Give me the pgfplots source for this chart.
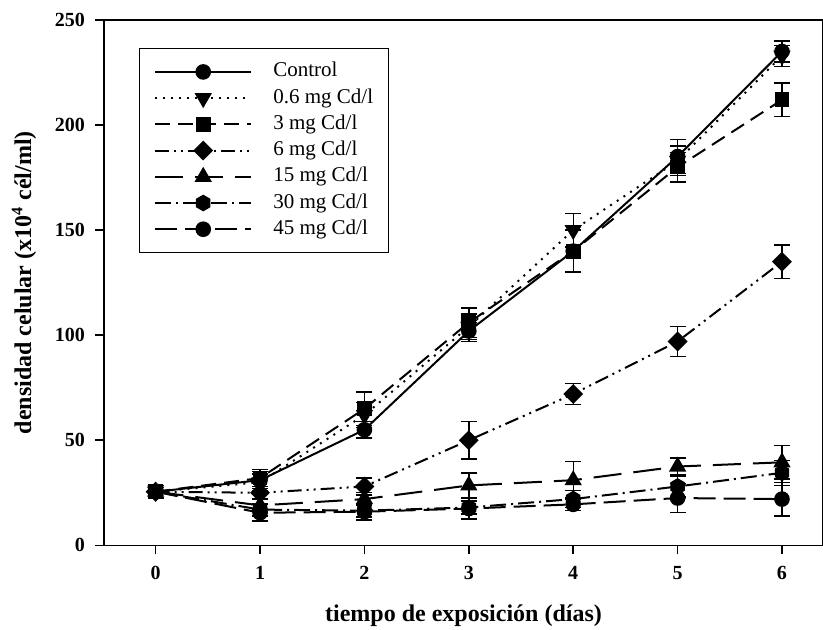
\documentclass[border=0pt]{standalone}
\usepackage{fontspec}
\setmainfont{Liberation Serif}
\usepackage{pgfplots}
\pgfplotsset{compat=1.18}
\pgfdeclareplotmark{hexagon*}{%
  \pgfpathmoveto{\pgfqpointpolar{90}{\pgfplotmarksize}}%
  \pgfpathlineto{\pgfqpointpolar{150}{\pgfplotmarksize}}%
  \pgfpathlineto{\pgfqpointpolar{210}{\pgfplotmarksize}}%
  \pgfpathlineto{\pgfqpointpolar{270}{\pgfplotmarksize}}%
  \pgfpathlineto{\pgfqpointpolar{330}{\pgfplotmarksize}}%
  \pgfpathlineto{\pgfqpointpolar{30}{\pgfplotmarksize}}%
  \pgfpathclose\pgfusepathqfillstroke}
\begin{document}
\begin{tikzpicture}
\begin{axis}[
  scale only axis,
  width=359.25pt, height=262.5pt,
  xmin=-0.494, xmax=6.393,
  ymin=0, ymax=250,
  xtick={0,1,2,3,4,5,6},
  ytick={0,50,100,150,200,250},
  tick align=outside,
  xtick pos=bottom, ytick pos=left,
  major tick length=4.5pt,
  axis line style={line width=0.8pt},
  every tick/.style={line width=0.8pt, black},
  tick label style={font=\fontsize{10}{11}\selectfont\bfseries},
  /pgf/number format/assume math mode=true,
  xticklabel style={yshift=-2.5pt},
  yticklabel style={xshift=-1.5pt},
  xlabel={\fontsize{12}{14}\selectfont\bfseries tiempo de exposición (días)},
  ylabel={\fontsize{12}{14}\selectfont\bfseries densidad celular (x10\textsuperscript{4} cél/ml)},
  every axis x label/.style={at={(axis description cs:0.5,0)}, anchor=center, yshift=-35pt},
  every axis y label/.style={at={(axis description cs:0,0.5)}, anchor=center, xshift=-40pt, rotate=90},
  legend style={at={(17.3pt,248.5pt)}, anchor=north west, draw=black, line width=0.5pt,
     font=\fontsize{10.5}{12}\selectfont, row sep=3.1pt, inner xsep=7.5pt, inner ysep=6.7pt,
     nodes={inner sep=0pt, text height=7.5pt, text depth=2.5pt},
     cells={anchor=west}},
  legend cell align=left,
  legend image code/.code={\draw[mark repeat=2,mark phase=2,#1] plot coordinates {(0pt,0pt) (24pt,0pt) (48pt,0pt)};
     \path[draw=none, fill=none] (0pt,0pt) (59pt,0pt);},
  every axis plot/.append style={black, line width=1pt,
     error bars/y dir=both, error bars/y explicit,
     error bars/error bar style={line width=0.7pt, solid},
     error bars/error mark options={rotate=90, mark size=4pt, line width=0.7pt, solid}},
]
\addplot[mark=*, mark size=3.4pt, solid, mark options={solid}] coordinates {
 (0,25.5) +- (0,3) (1,31) +- (0,4) (2,55) +- (0,4) (3,102) +- (0,5)
 (4,140) +- (0,10) (5,185) +- (0,8) (6,235) +- (0,5)};
\addlegendentry{Control}
\addplot[mark=triangle*, mark size=4pt, mark options={solid, rotate=180}, dash pattern=on 1pt off 3pt] coordinates {
 (0,25.5) +- (0,3) (1,30) +- (0,4) (2,62) +- (0,6) (3,104) +- (0,6)
 (4,150) +- (0,8) (5,183) +- (0,7) (6,233) +- (0,5)};
\addlegendentry{0.6 mg Cd/l}
\addplot[mark=square*, mark size=3.2pt, mark options={solid}, dash pattern=on 7.5pt off 4pt] coordinates {
 (0,25.5) +- (0,3) (1,32) +- (0,4) (2,65) +- (0,8) (3,106) +- (0,7)
 (4,140) +- (0,10) (5,180) +- (0,7) (6,212) +- (0,8)};
\addlegendentry{3 mg Cd/l}
\addplot[mark=square*, mark size=3pt, mark options={solid, rotate=45}, dash pattern=on 7pt off 2.5pt on 1pt off 2.5pt on 1pt off 2.5pt] coordinates {
 (0,25.5) +- (0,3) (1,25) +- (0,3) (2,28) +- (0,4) (3,50) +- (0,9)
 (4,72) +- (0,5) (5,97) +- (0,7) (6,135) +- (0,8)};
\addlegendentry{6 mg Cd/l}
\addplot[mark=triangle*, mark size=4pt, mark options={solid}, dash pattern=on 14pt off 6pt] coordinates {
 (0,25.5) +- (0,3) (1,19) +- (0,3) (2,22) +- (0,3) (3,28.5) +- (0,6)
 (4,31) +- (0,9) (5,37.5) +- (0,4) (6,39.5) +- (0,8)};
\addlegendentry{15 mg Cd/l}
\addplot[mark=hexagon*, mark size=3.6pt, mark options={solid}, dash pattern=on 8pt off 2.5pt on 1pt off 2.5pt] coordinates {
 (0,25.5) +- (0,3) (1,17) +- (0,3) (2,16.5) +- (0,3) (3,18) +- (0,3)
 (4,22) +- (0,4) (5,28) +- (0,5) (6,34.5) +- (0,6)};
\addlegendentry{30 mg Cd/l}
\addplot[mark=*, mark size=3.4pt, mark options={solid}, dash pattern=on 11pt off 4pt] coordinates {
 (0,25.5) +- (0,3) (1,15.5) +- (0,4) (2,16) +- (0,4) (3,17.5) +- (0,5)
 (4,19.5) +- (0,3) (5,22.5) +- (0,7) (6,22) +- (0,8)};
\addlegendentry{45 mg Cd/l}
\end{axis}
\pgfresetboundingbox
\path ([shift={(-52pt,-42pt)}]current axis.south west) rectangle ([shift={(0pt,10pt)}]current axis.north east);
\end{tikzpicture}
\end{document}
